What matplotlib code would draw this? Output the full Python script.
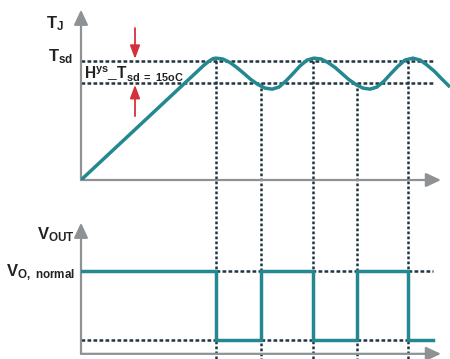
import matplotlib
matplotlib.use('Agg')
import matplotlib.pyplot as plt

plt.rcParams['font.family'] = 'Liberation Sans'
plt.rcParams['mathtext.fontset'] = 'custom'
plt.rcParams['mathtext.rm'] = 'Liberation Sans:bold'
plt.rcParams['mathtext.bf'] = 'Liberation Sans:bold'
plt.rcParams['mathtext.it'] = 'Liberation Sans:bold'

# junction temperature vs time (ms, degC): ramp up, then cycling around Tsd
t_junction = [0, 34.2, 35.6, 36.7, 37.5,
              39.4, 41.4, 43.3, 45.3, 47.2, 49.2, 51.1, 53.1,
              55.0, 56.9, 58.9, 60.8, 62.8, 64.7,
              66.7, 68.6, 70.6, 72.5, 74.4, 76.4, 78.3, 80.3,
              82.2, 84.2, 86.1, 88.1, 90.0, 92.2,
              94.2, 96.1, 98.1, 100.0, 102.5]
temp_junction = [84, 162.3, 165.0, 166.7, 167.0,
                 166.4, 164.0, 160.6, 156.5, 152.4, 149.0, 146.6, 145.9,
                 147.3, 151.4, 156.5, 161.6, 165.7, 167.0,
                 166.4, 164.0, 160.6, 156.5, 152.4, 149.0, 146.6, 145.9,
                 147.3, 151.4, 156.5, 161.6, 165.7, 167.0,
                 165.7, 162.3, 158.2, 153.4, 147.3]

T_SD = 165      # shutdown threshold
T_HYS = 15      # hysteresis
T_MIN, T_MAX = 84, 200

# output toggles when TJ reaches Tsd (off) or Tsd - hys (back on)
t_switch = [37.5, 50.0, 64.4, 76.7, 90.8]
switch_temp = [T_SD, T_SD - T_HYS, T_SD, T_SD - T_HYS, T_SD]
t_end = 97.8
v_out = [1, 0, 1, 0, 1, 0]

TEAL = '#238890'
DASH = '#1f3540'
AXIS = '#8f9295'
RED = '#d3303b'
TEXT = '#222222'
DASHES_H = (0, (1.5, 0.9))
DASHES_V = (0, (1.1, 0.9))
LW_DASH = 1.8

fig = plt.figure(figsize=(4.5, 3.59), dpi=100)
ax1 = fig.add_axes([0.18, 0.4986, 0.82, 0.4744])
ax2 = fig.add_axes([0.18, 0.0, 0.82, 0.3797])
for ax in (ax1, ax2):
    ax.axis('off')
    ax.set_xlim(0, 102.5)
ax1.set_ylim(T_MIN, T_MAX)
ax2.set_ylim(-0.275, 1.7)

axis_arrow = dict(arrowstyle='-|>,head_length=0.9,head_width=0.42',
                  mutation_scale=10, color=AXIS, lw=1.6,
                  shrinkA=0, shrinkB=0)

# --- top: junction temperature ---
ax1.annotate('', xy=(0, T_MAX), xytext=(0, T_MIN), arrowprops=axis_arrow)
ax1.annotate('', xy=(100, T_MIN), xytext=(0, T_MIN), arrowprops=axis_arrow)
for level in (T_SD, T_SD - T_HYS):
    ax1.plot([0, t_end], [level, level], color=DASH, lw=LW_DASH,
             linestyle=DASHES_H, zorder=2)
ax1.plot(t_junction, temp_junction, color=TEAL, lw=2.5, zorder=3,
         solid_capstyle='butt')

red_arrow = dict(arrowstyle='-|>,head_length=0.8,head_width=0.3',
                 mutation_scale=10, color=RED, lw=1.3,
                 shrinkA=0, shrinkB=0)
ax1.annotate('', xy=(15, 166.5), xytext=(15, 187.5), arrowprops=red_arrow)
ax1.annotate('', xy=(15, 148.8), xytext=(15, 127.5), arrowprops=red_arrow)

ax1.text(0.9, 152.6, r'$\mathbf{H^{ys}\_T_{sd\ =\ 15oC}}$', fontsize=11.2,
         color=TEXT, ha='left', va='baseline')

# --- bottom: output voltage ---
ax2.annotate('', xy=(0, 1.7), xytext=(0, -0.2), arrowprops=axis_arrow)
ax2.annotate('', xy=(100, -0.2), xytext=(0, -0.2), arrowprops=axis_arrow)
ax2.plot([0, t_end], [0, 0], color=DASH, lw=LW_DASH, linestyle=DASHES_H,
         zorder=2)
ax2.plot([t_switch[0], t_end], [1, 1], color=DASH, lw=LW_DASH,
         linestyle=DASHES_H, zorder=2)
edges = [0] + t_switch + [t_end]
ax2.step(edges, v_out + [v_out[-1]], where='post', color=TEAL, lw=2.5,
         zorder=3, solid_joinstyle='miter')

# switching instants, dropped from the threshold down to the lower time axis
to_ax1 = ax2.transData + ax1.transData.inverted()
for t, temp in zip(t_switch, switch_temp):
    bottom = to_ax1.transform((t, -0.275))[1]
    ax1.plot([t, t], [temp, bottom], color=DASH, lw=LW_DASH,
             linestyle=DASHES_V, clip_on=False, zorder=1)

# axis labels
fig.text(64 / 450, 1 - 28 / 359, r'$\mathbf{T_J}$', fontsize=12,
         color=TEXT, ha='right', va='baseline')
fig.text(73 / 450, 1 - 61 / 359, r'$\mathbf{T_{sd}}$', fontsize=12,
         color=TEXT, ha='right', va='baseline')
fig.text(75 / 450, 1 - 239 / 359, r'$\mathbf{V_{OUT}}$', fontsize=12,
         color=TEXT, ha='right', va='baseline')
fig.text(75 / 450, 1 - 276 / 359, r'$\mathbf{V_{O,\ normal}}$', fontsize=12,
         color=TEXT, ha='right', va='baseline')

fig.savefig('out.png', dpi=100, facecolor='white')
